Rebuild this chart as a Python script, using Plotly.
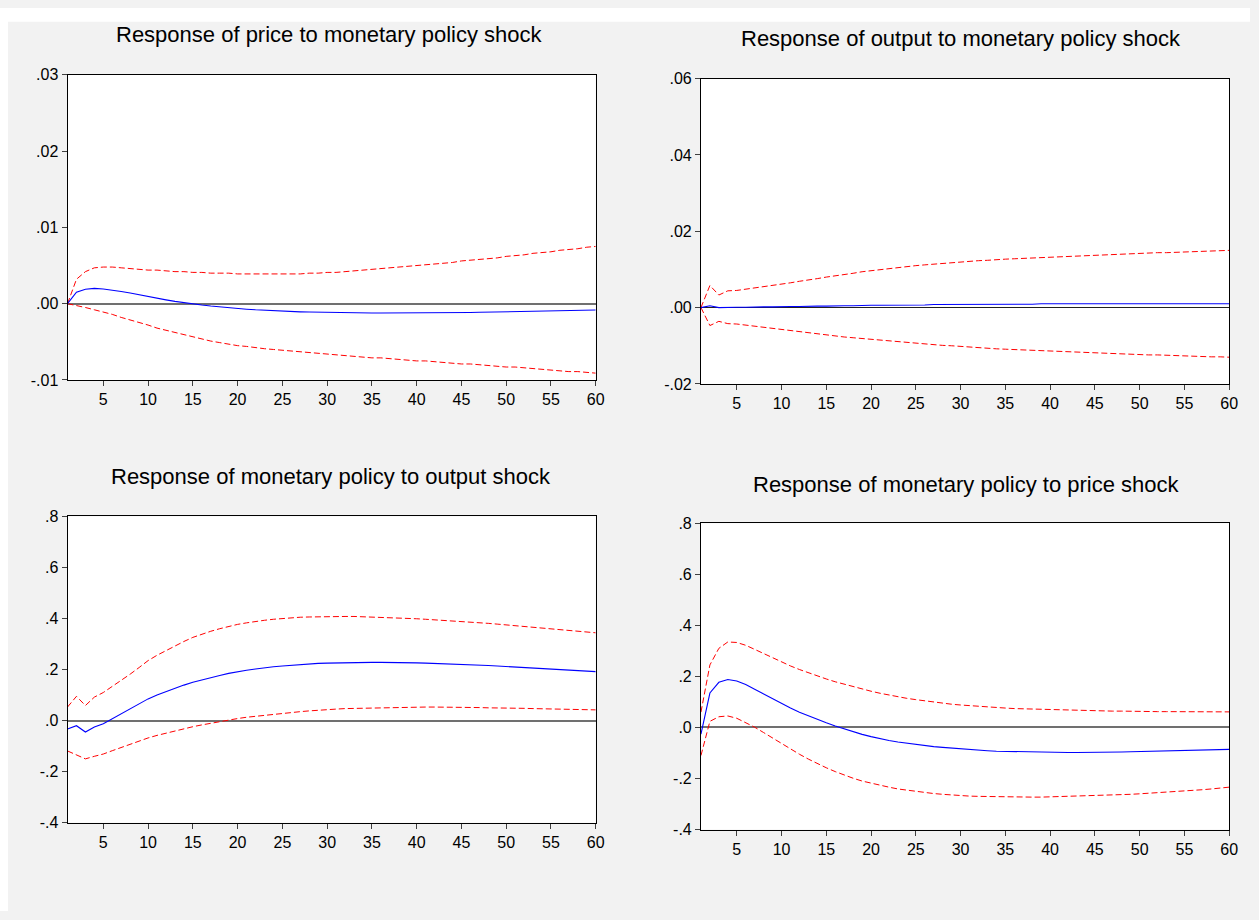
import plotly.graph_objects as go

periods = list(range(1, 61))

# Panel 1: Response of price to monetary policy shock
price_mp = [0.00000, 0.00150, 0.00190, 0.00200, 0.00192, 0.00178, 0.00160, 0.00140, 0.00115, 0.00092,
            0.00071, 0.00050, 0.00030, 0.00012, -0.00004, -0.00018, -0.00031, -0.00043, -0.00054, -0.00064,
            -0.00072, -0.00080, -0.00087, -0.00093, -0.00098, -0.00103, -0.00107, -0.00110, -0.00113, -0.00116,
            -0.00118, -0.00120, -0.00121, -0.00122, -0.00123, -0.00123, -0.00123, -0.00123, -0.00122, -0.00122,
            -0.00121, -0.00120, -0.00119, -0.00118, -0.00116, -0.00115, -0.00113, -0.00111, -0.00109, -0.00107,
            -0.00105, -0.00103, -0.00100, -0.00098, -0.00096, -0.00093, -0.00091, -0.00088, -0.00086, -0.00083]
price_mp_up = [0.0000, 0.0032, 0.0042, 0.0047, 0.0048, 0.0048, 0.0047, 0.0046, 0.0045, 0.0044,
               0.0044, 0.0043, 0.0042, 0.0042, 0.0041, 0.0041, 0.0040, 0.0040, 0.0040, 0.0039,
               0.0039, 0.0039, 0.0039, 0.0039, 0.0039, 0.0039, 0.0039, 0.0040, 0.0040, 0.0041,
               0.0041, 0.0042, 0.0043, 0.0044, 0.0045, 0.0046, 0.0047, 0.0048, 0.0049, 0.0050,
               0.0051, 0.0052, 0.0053, 0.0054, 0.0056, 0.0057, 0.0058, 0.0059, 0.0060, 0.0062,
               0.0063, 0.0064, 0.0066, 0.0067, 0.0068, 0.0070, 0.0071, 0.0072, 0.0074, 0.0075]
price_mp_lo = [0.0000, -0.0002, -0.0005, -0.0008, -0.0011, -0.0014, -0.0018, -0.0021, -0.0025, -0.0028,
               -0.0032, -0.0035, -0.0038, -0.0041, -0.0044, -0.0047, -0.0049, -0.0051, -0.0053, -0.0055,
               -0.0056, -0.0058, -0.0059, -0.0060, -0.0061, -0.0062, -0.0063, -0.0064, -0.0065, -0.0066,
               -0.0067, -0.0068, -0.0069, -0.0070, -0.0071, -0.0071, -0.0072, -0.0073, -0.0074, -0.0075,
               -0.0075, -0.0076, -0.0077, -0.0078, -0.0079, -0.0079, -0.0080, -0.0081, -0.0082, -0.0083,
               -0.0083, -0.0084, -0.0085, -0.0086, -0.0087, -0.0088, -0.0089, -0.0089, -0.0090, -0.0091]

# Panel 2: Response of output to monetary policy shock
output_mp = [0.0000, 0.0005, 0.0000, 0.0001, 0.0001, 0.0001, 0.0002, 0.0002, 0.0002, 0.0003,
             0.0003, 0.0003, 0.0004, 0.0004, 0.0004, 0.0005, 0.0005, 0.0005, 0.0006, 0.0006,
             0.0006, 0.0006, 0.0007, 0.0007, 0.0007, 0.0007, 0.0008, 0.0008, 0.0008, 0.0008,
             0.0008, 0.0008, 0.0009, 0.0009, 0.0009, 0.0009, 0.0009, 0.0009, 0.0010, 0.0010,
             0.0010, 0.0010, 0.0010, 0.0010, 0.0010, 0.0010, 0.0010, 0.0010, 0.0010, 0.0010,
             0.0010, 0.0010, 0.0010, 0.0010, 0.0010, 0.0010, 0.0010, 0.0010, 0.0010, 0.0010]
output_mp_up = [0.0000, 0.0058, 0.0033, 0.0044, 0.0045, 0.0048, 0.0051, 0.0055, 0.0058, 0.0062,
                0.0065, 0.0069, 0.0072, 0.0076, 0.0080, 0.0083, 0.0087, 0.0090, 0.0094, 0.0097,
                0.0100, 0.0103, 0.0105, 0.0108, 0.0110, 0.0112, 0.0114, 0.0116, 0.0118, 0.0120,
                0.0121, 0.0123, 0.0124, 0.0126, 0.0127, 0.0128, 0.0129, 0.0130, 0.0131, 0.0133,
                0.0134, 0.0135, 0.0136, 0.0137, 0.0138, 0.0139, 0.0139, 0.0140, 0.0141, 0.0142,
                0.0143, 0.0144, 0.0144, 0.0145, 0.0146, 0.0147, 0.0148, 0.0148, 0.0149, 0.0150]
output_mp_lo = [0.0000, -0.0047, -0.0036, -0.0042, -0.0043, -0.0046, -0.0048, -0.0051, -0.0054, -0.0057,
                -0.0060, -0.0063, -0.0066, -0.0069, -0.0072, -0.0074, -0.0077, -0.0079, -0.0081, -0.0083,
                -0.0085, -0.0088, -0.0090, -0.0092, -0.0094, -0.0095, -0.0097, -0.0099, -0.0100, -0.0102,
                -0.0103, -0.0105, -0.0106, -0.0108, -0.0109, -0.0110, -0.0111, -0.0112, -0.0113, -0.0115,
                -0.0115, -0.0116, -0.0117, -0.0118, -0.0119, -0.0120, -0.0121, -0.0121, -0.0122, -0.0123,
                -0.0124, -0.0124, -0.0125, -0.0126, -0.0127, -0.0127, -0.0128, -0.0129, -0.0129, -0.0130]

# Panel 3: Response of monetary policy to output shock
mp_output = [-0.033, -0.020, -0.045, -0.025, -0.012, 0.008, 0.028, 0.047, 0.066, 0.085,
             0.100, 0.114, 0.127, 0.139, 0.150, 0.160, 0.169, 0.177, 0.185, 0.192,
             0.197, 0.202, 0.207, 0.211, 0.214, 0.217, 0.219, 0.222, 0.224, 0.225,
             0.226, 0.227, 0.228, 0.228, 0.228, 0.228, 0.228, 0.227, 0.227, 0.226,
             0.225, 0.224, 0.223, 0.222, 0.220, 0.219, 0.217, 0.216, 0.214, 0.212,
             0.210, 0.208, 0.206, 0.204, 0.202, 0.200, 0.198, 0.196, 0.194, 0.192]
mp_output_up = [0.053, 0.095, 0.059, 0.092, 0.110, 0.133, 0.157, 0.182, 0.208, 0.235,
                0.256, 0.275, 0.293, 0.310, 0.326, 0.339, 0.350, 0.360, 0.369, 0.377,
                0.383, 0.389, 0.393, 0.397, 0.400, 0.403, 0.405, 0.406, 0.407, 0.408,
                0.408, 0.408, 0.408, 0.407, 0.406, 0.405, 0.404, 0.402, 0.401, 0.399,
                0.397, 0.395, 0.393, 0.391, 0.388, 0.386, 0.383, 0.381, 0.378, 0.375,
                0.372, 0.369, 0.366, 0.363, 0.360, 0.357, 0.354, 0.351, 0.347, 0.344]
mp_output_lo = [-0.119, -0.135, -0.150, -0.140, -0.131, -0.118, -0.105, -0.092, -0.080, -0.068,
                -0.058, -0.049, -0.040, -0.032, -0.024, -0.017, -0.010, -0.004, 0.002, 0.008,
                0.013, 0.017, 0.021, 0.025, 0.029, 0.032, 0.035, 0.038, 0.041, 0.043,
                0.045, 0.047, 0.048, 0.049, 0.050, 0.051, 0.052, 0.052, 0.053, 0.053,
                0.053, 0.053, 0.053, 0.052, 0.052, 0.051, 0.051, 0.050, 0.050, 0.049,
                0.048, 0.048, 0.047, 0.046, 0.045, 0.045, 0.044, 0.043, 0.043, 0.042]

# Panel 4: Response of monetary policy to price shock
mp_price = [-0.026, 0.135, 0.177, 0.188, 0.182, 0.168, 0.150, 0.131, 0.112, 0.093,
            0.076, 0.060, 0.045, 0.031, 0.018, 0.006, -0.006, -0.017, -0.027, -0.036,
            -0.044, -0.051, -0.057, -0.062, -0.067, -0.071, -0.075, -0.078, -0.081, -0.084,
            -0.087, -0.089, -0.091, -0.093, -0.094, -0.095, -0.096, -0.097, -0.097, -0.098,
            -0.098, -0.098, -0.098, -0.098, -0.097, -0.097, -0.096, -0.096, -0.095, -0.094,
            -0.094, -0.093, -0.092, -0.091, -0.090, -0.090, -0.089, -0.088, -0.087, -0.086]
mp_price_up = [0.060, 0.245, 0.310, 0.335, 0.333, 0.322, 0.306, 0.289, 0.272, 0.256,
               0.241, 0.227, 0.214, 0.202, 0.190, 0.179, 0.169, 0.159, 0.150, 0.142,
               0.134, 0.127, 0.120, 0.114, 0.109, 0.104, 0.099, 0.095, 0.091, 0.088,
               0.085, 0.082, 0.080, 0.078, 0.076, 0.074, 0.073, 0.071, 0.070, 0.069,
               0.068, 0.067, 0.066, 0.066, 0.065, 0.065, 0.064, 0.064, 0.063, 0.063,
               0.063, 0.062, 0.062, 0.062, 0.062, 0.061, 0.061, 0.061, 0.061, 0.061]
mp_price_lo = [-0.110, 0.024, 0.042, 0.045, 0.036, 0.020, 0.001, -0.020, -0.042, -0.064,
               -0.085, -0.105, -0.124, -0.142, -0.158, -0.173, -0.187, -0.199, -0.210, -0.219,
               -0.227, -0.234, -0.241, -0.246, -0.251, -0.255, -0.259, -0.262, -0.265, -0.267,
               -0.269, -0.270, -0.271, -0.272, -0.273, -0.273, -0.273, -0.273, -0.273, -0.272,
               -0.272, -0.271, -0.270, -0.269, -0.268, -0.266, -0.265, -0.263, -0.262, -0.260,
               -0.258, -0.256, -0.254, -0.252, -0.249, -0.246, -0.244, -0.241, -0.238, -0.234]

titles = ["Response of price to monetary policy shock",
          "Response of output to monetary policy shock",
          "Response of monetary policy to output shock",
          "Response of monetary policy to price shock"]

x_ticks = [5, 10, 15, 20, 25, 30, 35, 40, 45, 50, 55, 60]
y_ticks_1 = [-0.01, 0.00, 0.01, 0.02, 0.03]
y_labels_1 = ["-.01", ".00", ".01", ".02", ".03"]
y_ticks_2 = [-0.02, 0.00, 0.02, 0.04, 0.06]
y_labels_2 = ["-.02", ".00", ".02", ".04", ".06"]
y_ticks_3 = [-0.4, -0.2, 0.0, 0.2, 0.4, 0.6, 0.8]
y_labels_3 = ["-.4", "-.2", ".0", ".2", ".4", ".6", ".8"]

W, H = 1259, 920


def px_x(sx):
    return sx / W


def px_y(sy):
    return 1 - sy / H


panels = [
    dict(resp=price_mp, up=price_mp_up, lo=price_mp_lo, yt=y_ticks_1, yl=y_labels_1,
         xd=[px_x(68), px_x(600)], yd=[px_y(379), px_y(68)], tx=px_x(332), ty=px_y(27),
         zc="#707070", zw=1.5),
    dict(resp=output_mp, up=output_mp_up, lo=output_mp_lo, yt=y_ticks_2, yl=y_labels_2,
         xd=[px_x(706), px_x(1238)], yd=[px_y(383), px_y(72)], tx=px_x(968), ty=px_y(31),
         zc="#202020", zw=1.2),
    dict(resp=mp_output, up=mp_output_up, lo=mp_output_lo, yt=y_ticks_3, yl=y_labels_3,
         xd=[px_x(68), px_x(600)], yd=[px_y(830), px_y(518)], tx=px_x(333), ty=px_y(477),
         zc="#707070", zw=1.5),
    dict(resp=mp_price, up=mp_price_up, lo=mp_price_lo, yt=y_ticks_3, yl=y_labels_3,
         xd=[px_x(706), px_x(1238)], yd=[px_y(837), px_y(525)], tx=px_x(973), ty=px_y(485),
         zc="#707070", zw=1.5),
]

fig = go.Figure()
layout = dict(
    width=W, height=H, margin=dict(l=0, r=0, t=0, b=0),
    paper_bgcolor="#f2f2f2", plot_bgcolor="white", showlegend=False,
    font=dict(family="Liberation Sans, Arial, sans-serif", color="black"),
    shapes=[
        dict(type="rect", xref="paper", yref="paper", x0=0, x1=1, y0=px_y(14), y1=1,
             fillcolor="white", line=dict(width=0), layer="below"),
        dict(type="rect", xref="paper", yref="paper", x0=0, x1=px_x(8), y0=0, y1=1,
             fillcolor="white", line=dict(width=0), layer="below"),
    ],
    annotations=[],
)

for i, p in enumerate(panels):
    n = "" if i == 0 else str(i + 1)
    xa, ya = "x" + n, "y" + n
    fig.add_trace(go.Scatter(x=periods, y=p["up"], mode="lines", xaxis=xa, yaxis=ya,
                             line=dict(color="#ff0000", width=1, dash="6px,3px")))
    fig.add_trace(go.Scatter(x=periods, y=p["lo"], mode="lines", xaxis=xa, yaxis=ya,
                             line=dict(color="#ff0000", width=1, dash="6px,3px")))
    fig.add_trace(go.Scatter(x=periods, y=p["resp"], mode="lines", xaxis=xa, yaxis=ya,
                             line=dict(color="#0000ff", width=1.1)))
    layout["xaxis" + n] = dict(
        domain=p["xd"], anchor=ya, range=[1, 60], tickvals=x_ticks,
        ticktext=[str(v) for v in x_ticks], ticks="outside", ticklen=5, tickcolor="#404040",
        showline=True, linecolor="black", linewidth=1, mirror=True, showgrid=False,
        zeroline=False, tickfont=dict(size=16), fixedrange=True)
    layout["yaxis" + n] = dict(
        domain=p["yd"], anchor=xa, range=[p["yt"][0], p["yt"][-1]], tickvals=p["yt"],
        ticktext=p["yl"], ticks="outside", ticklen=5, tickcolor="#404040",
        showline=True, linecolor="black", linewidth=1, mirror=True, showgrid=False,
        zeroline=True, zerolinecolor=p["zc"], zerolinewidth=p["zw"],
        tickfont=dict(size=16), fixedrange=True)
    layout["annotations"].append(dict(
        text=titles[i], x=p["tx"], y=p["ty"], xref="paper", yref="paper",
        xanchor="center", yanchor="middle", showarrow=False, font=dict(size=22)))

fig.update_layout(**layout)
fig.write_html("out.html")
